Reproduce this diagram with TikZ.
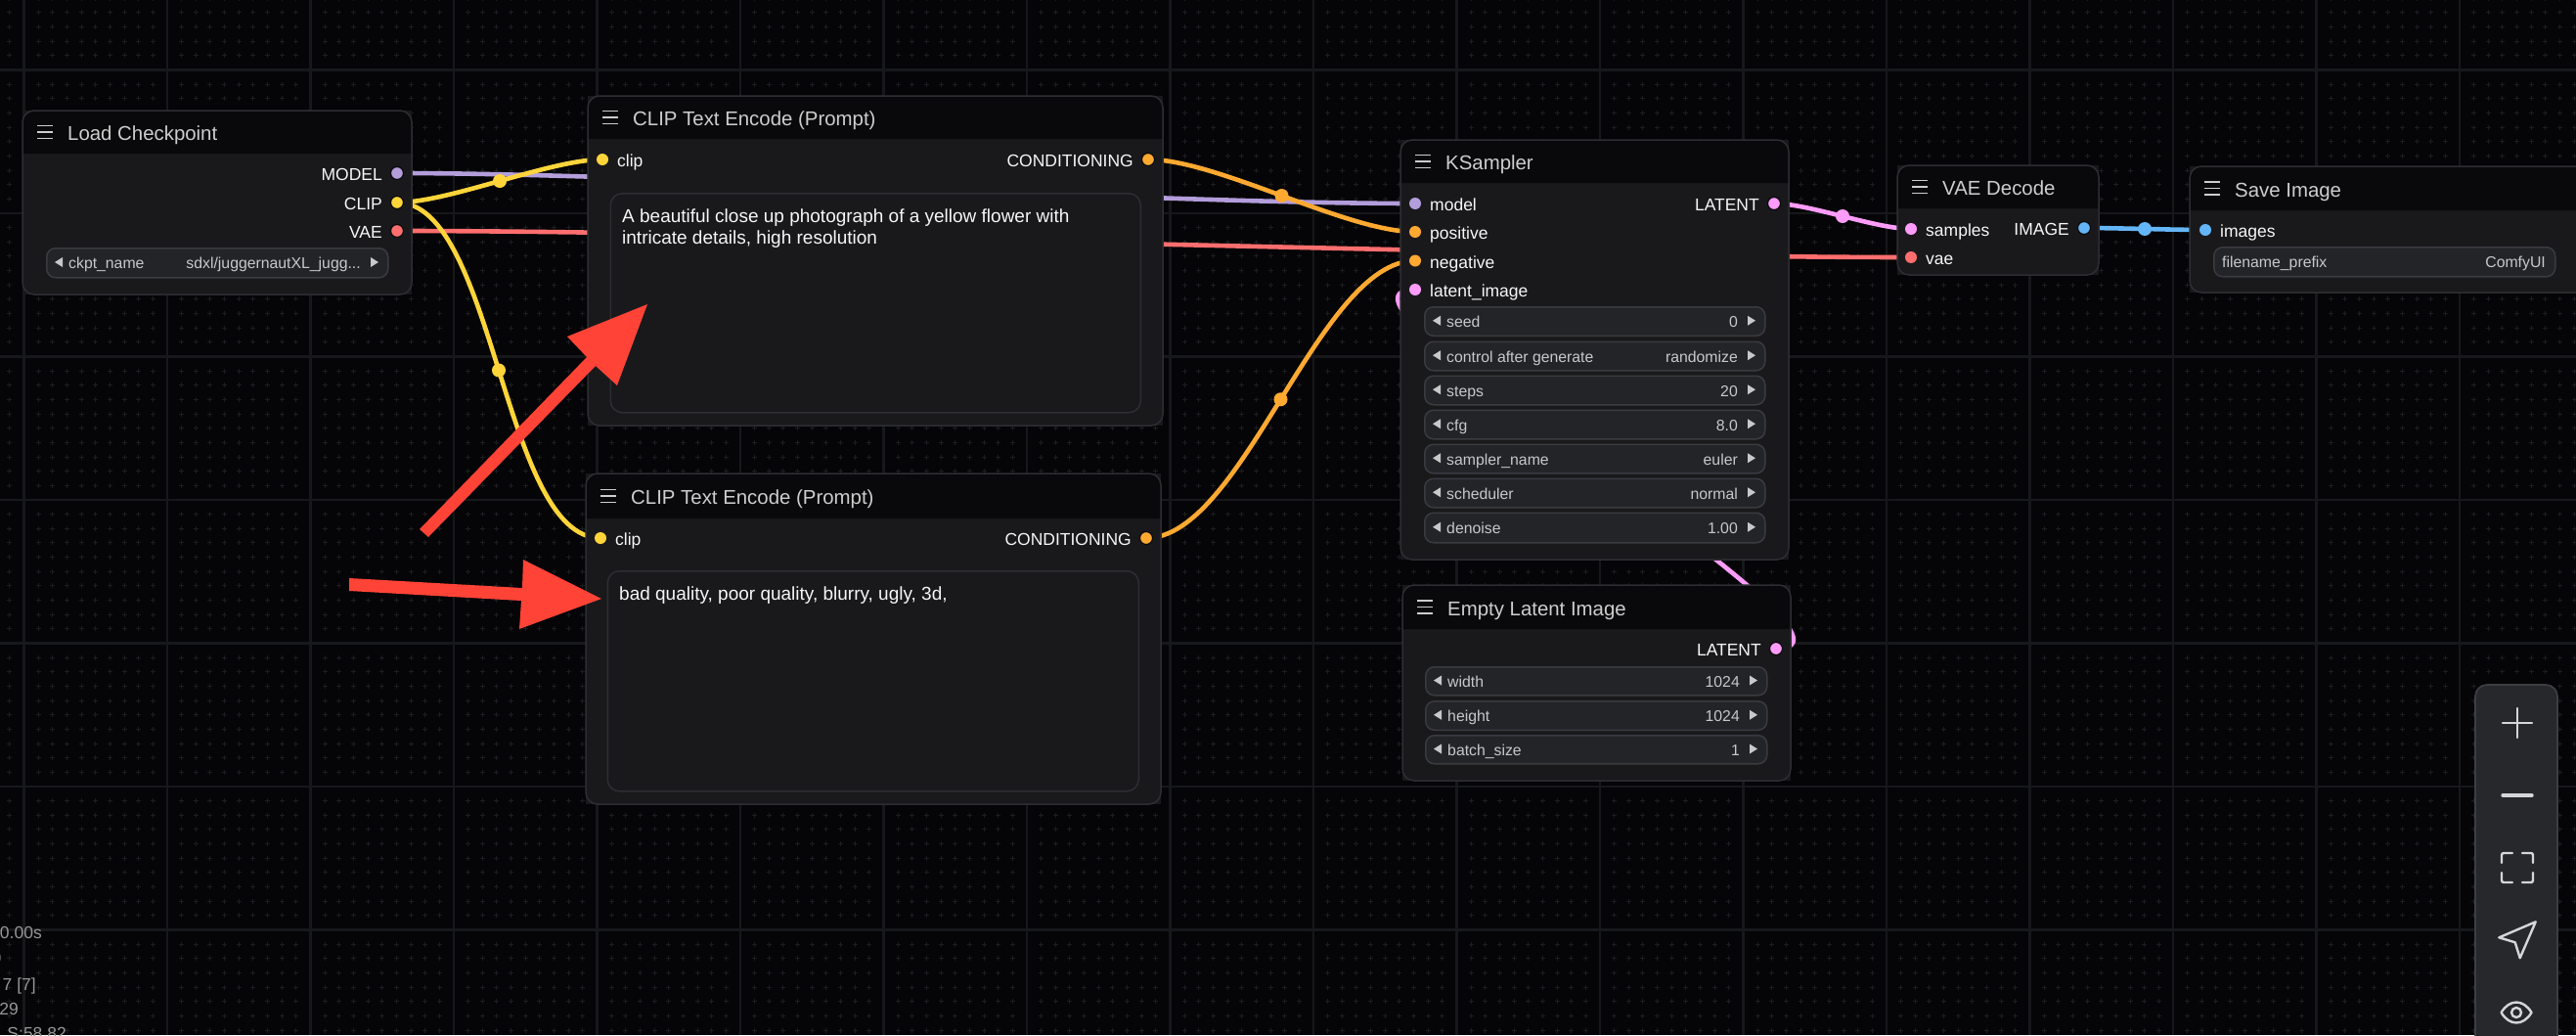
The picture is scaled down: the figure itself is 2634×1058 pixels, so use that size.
\documentclass[tikz,border=0pt]{standalone}
\usepackage{fontspec}
\setmainfont{Liberation Sans}
\usetikzlibrary{calc}
\pgfdeclarelayer{under}
\pgfsetlayers{under,main}
\definecolor{pagebg}{HTML}{050507}
\definecolor{gridline}{HTML}{17181B}
\definecolor{griddot}{HTML}{1C1D21}
\definecolor{bodyfill}{HTML}{19191C}
\definecolor{headfill}{HTML}{09090B}
\definecolor{edge}{HTML}{2D2E32}
\definecolor{wfill}{HTML}{232428}
\definecolor{wedge}{HTML}{3A3B40}
\definecolor{titletxt}{HTML}{CDCDCD}
\definecolor{porttxt}{HTML}{F6F6F6}
\definecolor{wtxt}{HTML}{C8C8CA}
\definecolor{cmodel}{HTML}{B39DDB}
\definecolor{cclip}{HTML}{FFD53A}
\definecolor{cvae}{HTML}{FF6E6E}
\definecolor{ccond}{HTML}{FFA931}
\definecolor{clatent}{HTML}{FF9CF9}
\definecolor{cimage}{HTML}{64B5F6}
\definecolor{redarrow}{HTML}{FF4336}
\definecolor{panelfill}{HTML}{27282B}
\definecolor{paneledge}{HTML}{3D3E43}
\definecolor{icon}{HTML}{D6D6D8}
\definecolor{status}{HTML}{969696}
\tikzset{
  x=1pt,y=-1pt,
  griddash/.style={griddot,line width=1pt,dash pattern=on 5pt off 9.65pt on 5pt off 9.65pt on 5pt off 9.65pt on 5pt off 9.65pt on 5pt off 9.65pt on 5pt off 9.65pt on 5pt off 9.65pt on 5pt off 9.65pt on 5pt off 24.3pt},
  nodebody/.style={rectangle,fill=bodyfill,anchor=north west,inner sep=0pt,outer sep=0pt},
  nodeedge/.style={draw=edge,line width=1.5pt,rounded corners=12pt},
  headstyle/.style={fill=headfill,rounded corners=12pt},
  titlestyle/.style={text=titletxt,anchor=base west,inner sep=0pt,font=\fontsize{20.4}{24}\selectfont},
  burger/.style={draw=titletxt,line width=1.8pt},
  inport/.style={circle,fill=#1,minimum size=12pt,inner sep=0pt},
  outport/.style={circle,fill=#1,draw=headfill,line width=1.2pt,minimum size=13pt,inner sep=0pt},
  portlabel/.style={text=porttxt,inner sep=0pt,font=\fontsize{17.5}{22}\selectfont},
  wbox/.style={rectangle,fill=wfill,draw=wedge,line width=1.5pt,rounded corners=9pt,anchor=north west,inner sep=0pt},
  wlabel/.style={text=wtxt,inner sep=0pt,font=\fontsize{15.8}{20}\selectfont},
  wtri/.style={fill=wtxt},
  textstyle/.style={text=porttxt,inner sep=0pt,font=\fontsize{19}{22.5}\selectfont},
  areabox/.style={rectangle,draw=edge,line width=1.5pt,fill=bodyfill,rounded corners=12pt,anchor=north west,inner sep=0pt},
  wirestyle/.style={draw=#1,line width=4.6pt},
  middot/.style={circle,fill=#1,minimum size=14pt,inner sep=0pt},
  statustxt/.style={text=status,inner sep=0pt,anchor=base east,font=\fontsize{17.5}{20}\selectfont},
  iconline/.style={draw=icon,line width=2.4pt,line cap=round,line join=round},
}
% name, left, top, right, bottom, header bottom, title
\newcommand{\comfynode}[7]{%
  \node[nodebody,minimum width={(#4-#2)*1pt},minimum height={(#5-#3)*1pt}] (#1) at (#2,#3) {};
  \path[headstyle] (#2,#6) [sharp corners] -- (#2,#6) [rounded corners=12pt] -- (#2,#3) -- (#4,#3) [sharp corners] -- (#4,#6) -- cycle;
  \draw[nodeedge] (#1.north west) rectangle (#1.south east);
  \draw[burger] (#2+15,{(#3+#6)/2-6.5}) -- +(16,0) (#2+15,{(#3+#6)/2}) -- +(16,0) (#2+15,{(#3+#6)/2+6.5}) -- +(16,0);
  \node[titlestyle] (#1-title) at (#2+46,{(#3+#6)/2+8.5}) {#7};
}
% name,x,y,colour,label
\newcommand{\inputport}[5]{%
  \node[inport=#4] (#1) at (#2,#3) {};
  \node[portlabel,anchor=base west] (#1-label) at (#2+15,#3+7.5) {#5};
}
\newcommand{\outputport}[5]{%
  \node[outport=#4] (#1) at (#2,#3) {};
  \node[portlabel,anchor=base east] (#1-label) at (#2-15,#3+7.5) {#5};
}
% name,left,top,right,bottom,label,value
\newcommand{\widgetrow}[7]{%
  \node[wbox,minimum width={(#4-#2)*1pt},minimum height={(#5-#3)*1pt}] (#1) at (#2,#3) {};
  \fill[wtri] (#2+9,{(#3+#5)/2}) -- (#2+17,{(#3+#5)/2-5}) -- (#2+17,{(#3+#5)/2+5}) -- cycle;
  \fill[wtri] (#4-9,{(#3+#5)/2}) -- (#4-17,{(#3+#5)/2-5}) -- (#4-17,{(#3+#5)/2+5}) -- cycle;
  \node[wlabel,anchor=base west] (#1-label) at (#2+23,{(#3+#5)/2+6.8}) {#6};
  \node[wlabel,anchor=base east] (#1-value) at (#4-27,{(#3+#5)/2+6.8}) {#7};
}
% name, from, to, colour
\newcommand{\wire}[4]{%
  \draw[wirestyle=#4] let \p1=(#2.center),\p2=(#3.center),\n1={veclen(\x2-\x1,\y2-\y1)*0.25} in
    (\p1) .. controls ($(\p1)+(\n1,0)$) and ($(\p2)-(\n1,0)$) .. (\p2);
  \node[middot=#4] (#1) at ($(#2.center)!0.5!(#3.center)$) {};
}
\begin{document}
\begin{tikzpicture}
\useasboundingbox (0,0) rectangle (2634,1058);
\clip (0,0) rectangle (2634,1058);

% ---------- nodes ----------
\comfynode{ckpt}{23}{113}{421}{301}{157}{Load Checkpoint}
\outputport{ckptmodel}{406}{177}{cmodel}{MODEL}
\outputport{ckptclip}{406}{207}{cclip}{CLIP}
\outputport{ckptvae}{406}{236}{cvae}{VAE}
\widgetrow{ckptname}{47}{253}{396}{283}{ckpt\_name}{sdxl/juggernautXL\_jugg...}

\comfynode{posenc}{601}{98}{1189}{435}{142}{CLIP Text Encode (Prompt)}
\inputport{posclip}{616}{163}{cclip}{clip}
\outputport{poscond}{1174}{163}{ccond}{CONDITIONING}
\node[areabox,minimum width=542pt,minimum height=224pt] (posarea) at (623.5,197) {};
\node[textstyle,anchor=north west,align=left] (postext) at (636,213.5) {A beautiful close up photograph of a yellow flower with\\intricate details, high resolution};

\comfynode{negenc}{599}{484}{1187}{822}{530}{CLIP Text Encode (Prompt)}
\inputport{negclip}{614}{550}{cclip}{clip}
\outputport{negcond}{1172}{550}{ccond}{CONDITIONING}
\node[areabox,minimum width=543pt,minimum height=225pt] (negarea) at (620.5,583) {};
\node[textstyle,anchor=base west] (negtext) at (633,613.5) {bad quality, poor quality, blurry, ugly, 3d,};

\comfynode{ks}{1432}{143}{1829}{572}{187}{KSampler}
\inputport{ksmodel}{1447}{208}{cmodel}{model}
\inputport{kspos}{1447}{237}{ccond}{positive}
\inputport{ksneg}{1447}{266.5}{ccond}{negative}
\inputport{kslatent}{1447}{296}{clatent}{latent\_image}
\outputport{ksout}{1814}{208}{clatent}{LATENT}
\widgetrow{wseed}{1456}{313}{1804}{342.5}{seed}{0}
\widgetrow{wctrl}{1456}{348.5}{1804}{378}{control after generate}{randomize}
\widgetrow{wsteps}{1456}{383.5}{1804}{413}{steps}{20}
\widgetrow{wcfg}{1456}{418.5}{1804}{448}{cfg}{8.0}
\widgetrow{wsampler}{1456}{453.5}{1804}{483}{sampler\_name}{euler}
\widgetrow{wsched}{1456}{488.5}{1804}{518}{scheduler}{normal}
\widgetrow{wdenoise}{1456}{523.5}{1804}{554}{denoise}{1.00}

\comfynode{empty}{1434}{598}{1831}{798}{643}{Empty Latent Image}
\outputport{emptyout}{1816}{663}{clatent}{LATENT}
\widgetrow{wwidth}{1457}{681}{1806}{710}{width}{1024}
\widgetrow{wheight}{1457}{716}{1806}{745.5}{height}{1024}
\widgetrow{wbatch}{1457}{751}{1806}{780}{batch\_size}{1}

\comfynode{vae}{1940}{169}{2146}{281}{213}{VAE Decode}
\inputport{vaesamples}{1954}{234}{clatent}{samples}
\inputport{vaevae}{1954}{263}{cvae}{vae}
\outputport{vaeout}{2131}{233}{cimage}{IMAGE}

\comfynode{save}{2239}{170}{2650}{299}{215}{Save Image}
\inputport{saveimages}{2255}{235}{cimage}{images}
\node[wbox,minimum width=349pt,minimum height=30pt] (wprefix) at (2263,252) {};
\node[wlabel,anchor=base west] (wprefix-label) at (2272,273.5) {filename\_prefix};
\node[wlabel,anchor=base east] (wprefix-value) at (2603,273.5) {ComfyUI};

% ---------- canvas and connectors, below the nodes ----------
\begin{pgfonlayer}{under}
\fill[pagebg] (0,0) rectangle (2634,1058);
\foreach \c in {-1,...,6}{\foreach \i in {1,...,9}{
  \draw[griddash] (-109.85,{71.5+146.5*\c+14.65*\i}) -- (2700,{71.5+146.5*\c+14.65*\i});
}}
\foreach \c in {-1,...,17}{\foreach \i in {1,...,9}{
  \draw[griddash] ({24.5+146.5*\c+14.65*\i},-62.85) -- ({24.5+146.5*\c+14.65*\i},1100);
}}
\foreach \k in {0,...,17}{\draw[gridline,line width=2.5pt] ({24.5+146.5*\k},0) -- ({24.5+146.5*\k},1058);}
\foreach \k in {0,...,6}{\draw[gridline,line width=2.5pt] (0,{71.5+146.5*\k}) -- (2634,{71.5+146.5*\k});}
\wire{mmodel}{ckptmodel}{ksmodel}{cmodel}
\wire{mvae}{ckptvae}{vaevae}{cvae}
\wire{mlatent}{emptyout}{kslatent}{clatent}
\wire{mclipa}{ckptclip}{posclip}{cclip}
\wire{mclipb}{ckptclip}{negclip}{cclip}
\wire{mconda}{poscond}{kspos}{ccond}
\wire{mcondb}{negcond}{ksneg}{ccond}
\wire{mksout}{ksout}{vaesamples}{clatent}
\wire{mimage}{vaeout}{saveimages}{cimage}
\end{pgfonlayer}

% ---------- red annotation arrows ----------
\fill[redarrow] (429,541) -- (600,365) -- (580,344) -- (662,311) -- (631,394) -- (609,374) -- (438,549) -- cycle;
\fill[redarrow] (357,591) -- (534,601) -- (535,572) -- (615,612) -- (531,643) -- (533,614) -- (357,604) -- cycle;

% ---------- zoom panel ----------
\draw[fill=panelfill,draw=paneledge,line width=1.8pt,rounded corners=12pt] (2531,700) rectangle (2615,1090);
\draw[iconline] (2559,739) -- (2589,739) (2574,724) -- (2574,754);
\draw[iconline,line width=3.4pt] (2559,813) -- (2589,813);
\begin{scope}[iconline,rounded corners=2pt]
\draw (2558,882) -- (2558,872) -- (2569,872);
\draw (2579,872) -- (2590,872) -- (2590,882);
\draw (2590,892) -- (2590,902) -- (2579,902);
\draw (2569,902) -- (2558,902) -- (2558,892);
\end{scope}
\draw[iconline] (2555.3,958.3) -- (2592.7,942.3) -- (2576.7,979.3) -- (2571.7,963.3) -- cycle;
\draw[iconline] (2557.5,1035) .. controls (2566,1021) and (2580,1021) .. (2588.5,1035) .. controls (2580,1049) and (2566,1049) .. (2557.5,1035) -- cycle;
\draw[iconline] (2573,1035) circle[radius=5pt];

% ---------- status text, cut by the page edge ----------
\node[statustxt] (st1) at (43,959) {0.00s};
\node[statustxt] (st2) at (1.5,985) {0};
\node[statustxt] (st3) at (37,1012) {7 [7]};
\node[statustxt] (st4) at (19,1037) {29};
\node[statustxt] (st5) at (68,1062) {S:58.82};
\end{tikzpicture}
\end{document}
